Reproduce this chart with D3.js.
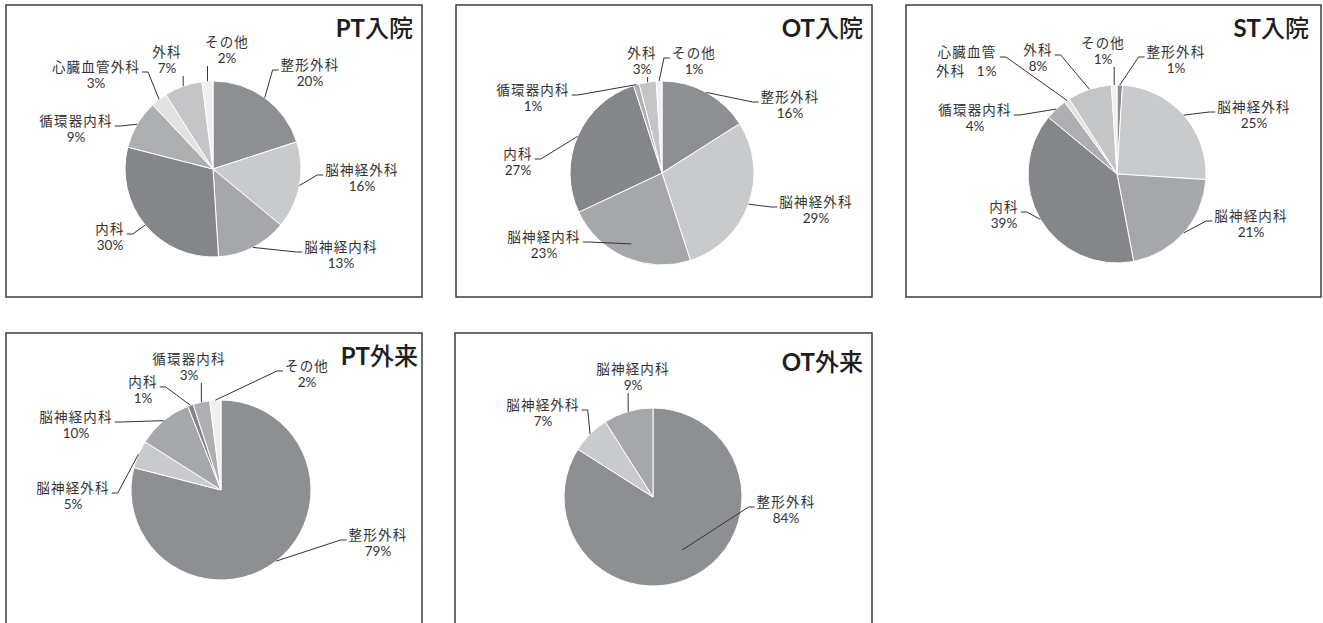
<!DOCTYPE html>
<html lang="ja">
<head>
<meta charset="utf-8">
<title>診療科別 依頼割合</title>
<script src="https://d3js.org/d3.v7.min.js"></script>
<style>
  body { margin: 0; background: #fff; }
  text { font-family: Lato, "Noto Sans CJK JP", sans-serif; }
</style>
</head>
<body>
<script>
// categories and values (percent)
const categories = ["整形外科", "脳神経外科", "脳神経内科", "内科", "循環器内科", "心臓血管外科", "外科", "その他"];
const chartTitles = ["PT入院", "OT入院", "ST入院", "PT外来", "OT外来"];
const ptInpatient = [20, 16, 13, 30, 9, 3, 7, 2];
const otInpatient = [16, 29, 23, 27, 1, 0, 3, 1];
const stInpatient = [1, 25, 21, 39, 4, 1, 8, 1];
const ptOutpatient = [79, 5, 10, 1, 3, 0, 0, 2];
const otOutpatient = [84, 7, 9, 0, 0, 0, 0, 0];
const seriesList = [ptInpatient, otInpatient, stInpatient, ptOutpatient, otOutpatient];

const sliceColors = ["#8e8f92", "#c9cacc", "#a6a7aa", "#858689", "#aeafb1", "#e1e2e3", "#c4c5c7", "#f0f0f0"];
const color = d3.scaleOrdinal(categories, sliceColors);

// panel layout: frame, pie centre/radius, title anchor, label offsets from pie centre
const panels = [
  { frame: [6, 5, 416, 292], cx: 213, cy: 169, r: 88, tx: 413, ty: 37,
    labels: [[97, -104], [149, 1], [128, 78], [-103, 60], [-137, -48], [-117, -102], [-46, -117], [14, -127]] },
  { frame: [456, 5, 416, 292], cx: 662, cy: 173, r: 92, tx: 863, ty: 37,
    labels: [[128, -76], [154, 29], [-118, 64], [-144, -19], [-129, -83], null, [-20, -120], [32, -120]],
    inner: { 2: 0.84 } },
  { frame: [906, 5, 415, 292], cx: 1117, cy: 174, r: 89, tx: 1309, ty: 37,
    labels: [[59, -122], [137, -67], [134, 42], [-113, 33], [-142, -64], [-150, -122], [-79, -124], [-14, -131]],
    wrap: { 5: 4 } },
  { frame: [6, 333, 416, 400], cx: 221, cy: 490, r: 90, tx: 418, ty: 365,
    labels: [[157, 45], [-148, -2], [-145, -73], [-78, -108], [-32, -131], null, null, [86, -124]] },
  { frame: [455, 333, 417, 400], cx: 653, cy: 497, r: 89, tx: 863, ty: 371,
    labels: [[133, 5], [-110, -92], [-20, -128], null, null, null, null, null],
    inner: { 0: 0.68 } }
];

const svg = d3.select("body").append("svg")
  .attr("width", 1323)
  .attr("height", 623);

panels.forEach((p, i) => {
  const series = seriesList[i];
  const g = svg.append("g");

  g.append("rect")
    .attr("x", p.frame[0]).attr("y", p.frame[1])
    .attr("width", p.frame[2]).attr("height", p.frame[3])
    .attr("fill", "#fff")
    .attr("stroke", "#3b3b3b")
    .attr("stroke-width", 1.5);

  // title: latin part bold, japanese part regular
  const m = chartTitles[i].match(/^([A-Z]+)(.*)$/);
  const title = g.append("text")
    .attr("x", p.tx).attr("y", p.ty)
    .attr("text-anchor", "end")
    .attr("font-size", 24)
    .attr("fill", "#1e1e1e");
  title.append("tspan").attr("font-weight", "bold").text(m[1]);
  title.append("tspan").attr("font-family", "'Noto Sans CJK JP'").attr("font-weight", 500).text(m[2]);

  const data = categories.map((c, j) => ({ name: c, value: series[j], idx: j }))
    .filter(d => d.value > 0);

  const pie = d3.pie().sort(null).value(d => d.value);
  const arcs = pie(data);
  const arc = d3.arc().innerRadius(0).outerRadius(p.r);

  const pg = g.append("g").attr("transform", `translate(${p.cx},${p.cy})`);

  pg.selectAll("path.slice")
    .data(arcs)
    .join("path")
    .attr("class", "slice")
    .attr("d", arc)
    .attr("fill", d => color(d.data.name))
    .attr("stroke", "#fff")
    .attr("stroke-width", 1);

  arcs.forEach(d => {
    const pos = p.labels[d.data.idx];
    if (!pos) return;
    const pct = d.data.value + "%";
    const lg = pg.append("g");
    let lines;
    let lastY;
    if (p.wrap && p.wrap[d.data.idx]) {
      const k = p.wrap[d.data.idx];
      lines = [[d.data.name.slice(0, k), pos[1]], [d.data.name.slice(k) + "\u2003" + pct, pos[1] + 19]];
    } else {
      lines = [[d.data.name, pos[1]], [pct, pos[1] + 16]];
    }
    let w = 0;
    lines.forEach(([t, y], li) => {
      const el = lg.append("text")
        .attr("x", pos[0]).attr("y", y)
        .attr("text-anchor", "middle")
        .attr("dominant-baseline", "central")
        .attr("font-size", 13.5)
        .attr("fill", "#333")
        .style("letter-spacing", /[0-9]%$/.test(t) && li > 0 && t.length < 5 ? "0px" : "1.2px")
        .text(t);
      w = Math.max(w, el.node().getComputedTextLength());
      lastY = y;
    });

    // leader line from the slice to the label box
    const a = (d.startAngle + d.endAngle) / 2;
    const rr = p.r * ((p.inner && p.inner[d.data.idx]) || 1);
    const start = [rr * Math.sin(a), -rr * Math.cos(a)];
    const x0 = pos[0] - w / 2 - 2, x1 = pos[0] + w / 2 + 2;
    const yTop = pos[1] - 8, yBot = lastY + 8;
    let pts;
    if (start[0] < x0) {
      const ay = pos[1] + 5;
      pts = [start, [x0 - 6, ay], [x0, ay]];
    } else if (start[0] > x1) {
      const ay = pos[1] + 5;
      pts = [start, [x1 + 6, ay], [x1, ay]];
    } else {
      pts = [start, [start[0], start[1] < yTop ? yTop : yBot]];
    }
    pg.append("polyline")
      .attr("points", pts.map(q => q.join(",")).join(" "))
      .attr("fill", "none")
      .attr("stroke", "#333")
      .attr("stroke-width", 1);
  });
});
</script>
</body>
</html>
